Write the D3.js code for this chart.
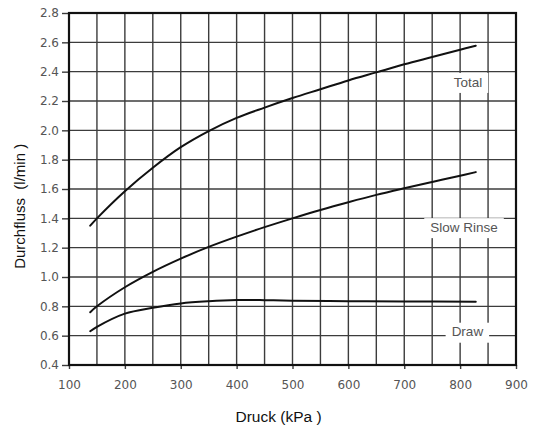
<!DOCTYPE html>
<html>
<head>
<meta charset="utf-8">
<script src="https://cdn.jsdelivr.net/npm/d3@7"></script>
<style>
  html, body { margin: 0; padding: 0; background: #fff; }
  svg { display: block; }
</style>
</head>
<body>
<svg id="chart" width="539" height="427"></svg>
<script>
// ---- data ----
const xTicks = [100, 200, 300, 400, 500, 600, 700, 800, 900];
const xGridValues = [150, 200, 250, 300, 350, 400, 450, 500, 550, 600, 650, 700, 750, 800, 850];
const yTicks = [0.4, 0.6, 0.8, 1.0, 1.2, 1.4, 1.6, 1.8, 2.0, 2.2, 2.4, 2.6, 2.8];

const pressureTS = [138, 150, 200, 250, 300, 350, 400, 450, 500, 550, 600, 650, 700, 750, 800, 828];
const totalFlow  = [1.35, 1.40, 1.585, 1.745, 1.885, 1.995, 2.085, 2.155, 2.22, 2.28, 2.34, 2.395, 2.45, 2.50, 2.55, 2.577];
const slowFlow   = [0.76, 0.80, 0.93, 1.035, 1.125, 1.205, 1.275, 1.34, 1.40, 1.457, 1.51, 1.56, 1.605, 1.648, 1.69, 1.715];

const pressureDraw = [138, 150, 200, 250, 300, 350, 400, 450, 500, 600, 700, 828];
const drawFlow     = [0.63, 0.66, 0.75, 0.79, 0.82, 0.835, 0.843, 0.842, 0.838, 0.835, 0.833, 0.832];

const seriesLabels = ["Total", "Slow Rinse", "Draw"];
const labelX = [814, 807, 813];
const labelY = [2.33, 1.34, 0.627];

const xTitle = "Druck (kPa )";
const yTitle = "Durchfluss  (l/min )";

// ---- layout ----
const svg = d3.select("#chart");
const margin = { left: 69, right: 23, top: 13, bottom: 62 };
const W = 539, H = 427;
const x = d3.scaleLinear().domain([100, 900]).range([margin.left, W - margin.right]);
const y = d3.scaleLinear().domain([0.4, 2.8]).range([H - margin.bottom, margin.top]);

const gridColor = "#3c3c3c";

// grid
const grid = svg.append("g");
grid.selectAll("line.v").data(xGridValues).join("line")
  .attr("x1", d => x(d)).attr("x2", d => x(d))
  .attr("y1", y(2.8)).attr("y2", y(0.4))
  .attr("stroke", gridColor).attr("stroke-width", 1.4);
grid.selectAll("line.h").data(yTicks).join("line")
  .attr("x1", x(100)).attr("x2", x(900))
  .attr("y1", d => y(d)).attr("y2", d => y(d))
  .attr("stroke", gridColor).attr("stroke-width", 1.4);

// axes
const yAxis = svg.append("g").attr("transform", `translate(${x(100)},0)`)
  .call(d3.axisLeft(y).tickValues(yTicks).tickFormat(d3.format(".1f")).tickSize(7).tickPadding(3));
const xAxis = svg.append("g").attr("transform", `translate(0,${y(0.4)})`)
  .call(d3.axisBottom(x).tickValues(xTicks).tickFormat(d3.format("d")).tickSize(4).tickPadding(11));
[yAxis, xAxis].forEach(a => {
  a.select(".domain").remove();
  a.selectAll(".tick line").attr("stroke", gridColor).attr("stroke-width", 1.4);
  a.selectAll(".tick text")
    .attr("fill", "#555")
    .style("font-family", "'DejaVu Sans', Verdana, sans-serif")
    .style("font-size", "12px");
});

// label boxes & labels
const labelFont = "'Liberation Sans', Arial, sans-serif";
seriesLabels.forEach((t, i) => {
  const cx = x(labelX[i]), cy = y(labelY[i]);
  const g = svg.append("g");
  const rect = g.append("rect").attr("fill", "#fff");
  const txt = g.append("text")
    .attr("x", cx).attr("y", cy).attr("dy", "0.35em")
    .attr("text-anchor", "middle")
    .attr("fill", "#555")
    .style("font-family", labelFont)
    .style("font-size", "13.5px")
    .text(t);
  const w = txt.node().getComputedTextLength();
  rect.attr("x", cx - w / 2 - 6).attr("width", w + 12)
    .attr("y", cy - 9).attr("height", 20);
});

// curves
const line = d3.line().x(d => x(d[0])).y(d => y(d[1])).curve(d3.curveCatmullRom.alpha(0.5));
const curves = [
  d3.zip(pressureTS, totalFlow),
  d3.zip(pressureTS, slowFlow),
  d3.zip(pressureDraw, drawFlow)
];
svg.append("g").selectAll("path").data(curves).join("path")
  .attr("d", line)
  .attr("fill", "none")
  .attr("stroke", "#111")
  .attr("stroke-width", 2)
  .attr("stroke-linecap", "round");

// frame
svg.append("rect")
  .attr("x", x(100)).attr("y", y(2.8))
  .attr("width", x(900) - x(100)).attr("height", y(0.4) - y(2.8))
  .attr("fill", "none").attr("stroke", "#111").attr("stroke-width", 2.2);

// titles
svg.append("text")
  .attr("x", 278.5).attr("y", 421.5)
  .attr("text-anchor", "middle")
  .attr("fill", "#111")
  .style("font-family", labelFont)
  .style("font-size", "15.5px")
  .style("white-space", "pre")
  .text(xTitle);
svg.append("text")
  .attr("transform", `translate(25,${(y(1.2) + y(1.6)) / 2 - 12}) rotate(-90)`)
  .attr("text-anchor", "middle")
  .attr("fill", "#111")
  .style("font-family", labelFont)
  .style("font-size", "15px")
  .style("white-space", "pre")
  .text(yTitle);
</script>
</body>
</html>
